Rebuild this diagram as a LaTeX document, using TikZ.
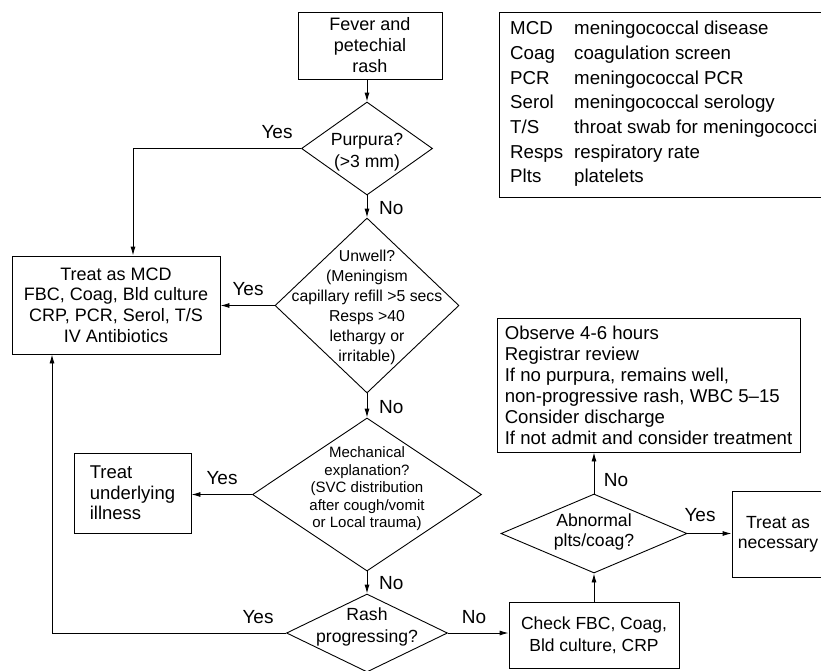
\documentclass[tikz,border=0pt]{standalone}
\usepackage{fontspec}
\setmainfont{Liberation Sans}
\usetikzlibrary{shapes.geometric,arrows.meta}
\newcommand\myfs[2]{\fontsize{#1}{#2}\selectfont}
\begin{document}
\begin{tikzpicture}[x=1pt,y=-1pt,
  box/.style={draw,line width=0.9pt,rectangle,inner sep=0pt},
  dia/.style={draw,line width=0.9pt,diamond,inner sep=0pt},
  txt/.style={inner sep=0pt,align=center},
  lbl/.style={inner sep=0pt,font=\myfs{19}{22}},
  arr/.style={line width=0.9pt,-{Latex[length=9pt,width=5pt]}}]
\useasboundingbox (0,0) rectangle (821,670);

% boxes
\node[box,minimum width=144pt,minimum height=67pt,align=center,font=\myfs{18}{21}] (fever) at (370,45.5) {Fever and\\petechial\\rash};
\node[box,minimum width=208pt,minimum height=98pt,align=center,font=\myfs{18}{20.6}] (mcd) at (116,305) {Treat as MCD\\FBC, Coag, Bld culture\\CRP, PCR, Serol, T/S\\IV Antibiotics};
\node[box,minimum width=117pt,minimum height=80pt,align=left,font=\myfs{18.5}{20.7}] (und) at (132.5,493) {Treat\\underlying\\illness};
\node[box,minimum width=170pt,minimum height=66pt,align=center,font=\myfs{17.5}{21.7}] (chk) at (594,635) {Check FBC, Coag,\\Bld culture, CRP};
\node[box,minimum width=303pt,minimum height=134pt,align=left,font=\myfs{18.6}{21}] (obs) at (648.5,385) {Observe 4-6 hours\\Registrar review\\If no purpura, remains well,\\non-progressive rash, WBC 5--15\\Consider discharge\\If not admit and consider treatment};
\node[box,minimum width=120pt,minimum height=86pt] (tn) at (792,534) {};
\node[txt,font=\myfs{17.6}{20}] (tnT) at (778,534) {Treat as\\necessary};

% legend
\node[box,minimum width=350pt,minimum height=185pt] (leg) at (674,104.5) {};
\node[inner sep=0pt,align=left,anchor=west,font=\myfs{18.7}{24.7}] (legT) at (510,104) {%
\makebox[64pt][l]{MCD}meningococcal disease\\
\makebox[64pt][l]{Coag}coagulation screen\\
\makebox[64pt][l]{PCR}meningococcal PCR\\
\makebox[64pt][l]{Serol}meningococcal serology\\
\makebox[64pt][l]{T/S}throat swab for meningococci\\
\makebox[64pt][l]{Resps}respiratory rate\\
\makebox[64pt][l]{Plts}platelets};

% diamonds
\node[dia,minimum width=131pt,minimum height=93pt] (purp) at (367,148.5) {};
\node[txt,font=\myfs{17.6}{21.7}] (purpT) at (367,152) {Purpura?\\(>3 mm)};
\node[dia,minimum width=184pt,minimum height=175pt] (unw) at (367,305.5) {};
\node[txt,font=\myfs{15.8}{20}] (unwT) at (367,307.5) {Unwell?\\(Meningism\\capillary refill >5 secs\\Resps >40\\lethargy or\\irritable)};
\node[dia,minimum width=229pt,minimum height=153pt] (mech) at (367,494.5) {};
\node[txt,font=\myfs{15}{17.5}] (mechT) at (367,489) {Mechanical\\explanation?\\(SVC distribution\\after cough/vomit\\or Local trauma)};
\node[dia,minimum width=161pt,minimum height=78pt] (rash) at (367,633) {};
\node[txt,font=\myfs{17.6}{21.7}] (rashT) at (367,627) {Rash\\progressing?};
\node[dia,minimum width=186pt,minimum height=79pt] (abn) at (594,533.5) {};
\node[txt,font=\myfs{17.6}{20}] (abnT) at (594,532) {Abnormal\\plts/coag?};

% connectors
\coordinate (c1) at (133,148.5);
\coordinate (c2) at (52,633);
\draw[arr] (fever.south -| purp.north) -- (purp.north);
\draw[arr] (purp.west) -- (c1) -- (c1 |- mcd.north);
\draw[arr] (purp.south) -- (unw.north);
\draw[arr] (unw.west) -- (unw.west -| mcd.east);
\draw[arr] (unw.south) -- (mech.north);
\draw[arr] (mech.west) -- (mech.west -| und.east);
\draw[arr] (mech.south) -- (rash.north);
\draw[arr] (rash.west) -- (c2) -- (c2 |- mcd.south);
\draw[arr] (rash.east) -- (rash.east -| chk.west);
\draw[arr] (chk.north) -- (abn.south);
\draw[arr] (abn.north) -- (obs.south -| abn.north);
\draw[arr] (abn.east) -- (abn.east -| tn.west);

% labels
\node[lbl] (y1) at (277,132) {Yes};
\node[lbl,anchor=west] (n1) at (379,208) {No};
\node[lbl] (y2) at (248,289) {Yes};
\node[lbl,anchor=west] (n2) at (379,407) {No};
\node[lbl] (y3) at (222,478) {Yes};
\node[lbl,anchor=west] (n3) at (379,583) {No};
\node[lbl] (y4) at (258,617) {Yes};
\node[lbl] (n4) at (474,617) {No};
\node[lbl] (n5) at (616,480) {No};
\node[lbl] (y5) at (700,515) {Yes};
\end{tikzpicture}
\end{document}
